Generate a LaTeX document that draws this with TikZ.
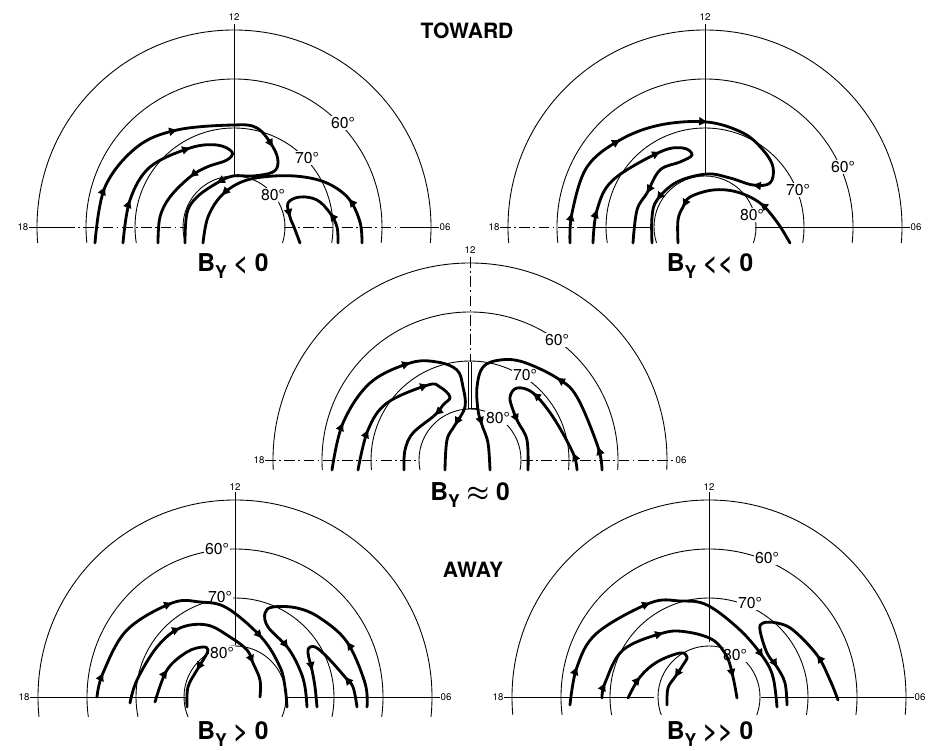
\documentclass[tikz,border=0pt]{standalone}
\usepackage{fontspec}
\setmainfont{TeX Gyre Heros}
\usetikzlibrary{arrows.meta}
\newcommand{\Bysub}{B\raisebox{-3.5pt}{\fontsize{10}{10}\selectfont Y}}
\tikzset{
  ring/.style     = {line width=0.5pt},
  axisline/.style = {line width=0.5pt},
  axisdash/.style = {line width=0.5pt, dash pattern=on 6pt off 2pt on 1pt off 2pt},
  flow/.style     = {line width=1.6pt, line cap=round, line join=round},
  headarr/.style  = {line width=1.6pt, -{Triangle[length=4.5pt, width=4.5pt]}},
  deg/.style      = {font=\fontsize{9}{9}\selectfont, fill=white, inner sep=0.5pt},
  hour/.style     = {font=\fontsize{5.5}{5.5}\selectfont, inner sep=1pt},
  caselbl/.style  = {font=\fontsize{14}{14}\selectfont\bfseries, anchor=base, inner sep=0pt},
  headline/.style = {font=\fontsize{12}{12}\selectfont\bfseries, inner sep=0pt},
}

\begin{document}
\begin{tikzpicture}[x=0.02cm, y=0.02cm]
  \useasboundingbox (0,0) rectangle (941,751);

  % ---------- rings and hour marks of the five dials -----------------
  \foreach \pn/\cx/\cy/\cut in {tl/234/524/16, tr/705/524/16, mid/470/291/10,
                                bl/235/54/20, br/709/54/18} {
    \begin{scope}[shift={(\cx,\cy)}]
      \begin{scope}
        \clip (-215,-\cut) rectangle (215,215);
        \foreach \r in {197,148,99,51}
          \draw[ring] (0,0) circle (\r);
      \end{scope}
      \node[hour] (\pn-12) at (0,210) {12};
      \node[hour] (\pn-18) at (-211,0) {18};
      \node[hour] (\pn-06) at (211,0) {06};
    \end{scope}
  }

  % ---------- headings ------------------------------------------------
  \node[headline] (toward) at (467,720) {TOWARD};
  \node[headline] (away) at (473,181) {AWAY};
  \node[caselbl] (tl-case) at (233,479) {\Bysub{} < 0};
  \node[caselbl] (tr-case) at (710,479) {\Bysub{} <\kern0.5pt< 0};
  \node[caselbl] (mid-case) at (470,250) {\Bysub{} {\boldmath$\approx$} 0};
  \node[caselbl] (bl-case) at (233,11) {\Bysub{} > 0};
  \node[caselbl] (br-case) at (710,11) {\Bysub{} >\kern0.5pt> 0};

  % ---------- B_Y < 0 -------------------------------------------------
  \begin{scope}[shift={(234,524)}]
    \draw[axisline] (-205,0) -- (-170,0);
    \draw[axisdash] (-170,0) -- (-50,0);
    \draw[axisdash] (50,0) -- (170,0);
    \draw[axisline] (170,0) -- (205,0);
    \draw[axisline] (0,203) -- (0,51);
    \node[deg] (tl-60) at (109,104) {60°};
    \node[deg] (tl-70) at (73,69) {70°};
    \node[deg] (tl-80) at (39,32) {80°};
    \draw[flow] plot[smooth, tension=0.6] coordinates {(-139,-16) (-129,40) (-97,80)
      (-57,97) (-1,102) (23,99) (39,80) (44,65) (39,55) (19,51) (-1,51) (-17,44)
      (-37,30) (-47,14) (-49,-16)};
    \draw[flow] plot[smooth, tension=0.6] coordinates {(-111,-16) (-104,27) (-84,60)
      (-44,79) (-17,82) (-2,75) (-7,67) (-27,60) (-44,50) (-64,30) (-74,10) (-76,-16)};
    \draw[flow] plot[smooth, tension=0.6] coordinates {(128,-16) (126,5) (115,28)
      (95,43) (70,50) (40,51) (10,46) (-12,32) (-26,10) (-31,-16)};
    \draw[flow] plot[smooth, tension=0.6] coordinates {(104,-16) (103,0) (96,14)
      (83,27) (66,30) (54,24) (56,10) (60,0) (66,-16)};
    \foreach \x/\y/\a in {-129/40/66, -57/97/13, 39/80/-58, -17/44/210,
                          -104/27/70, -44/79/18, -44/50/219,
                          115/28/129, -12/32/225, 96/14/126, 56/10/-76}
      \draw[headarr] (\x,\y) ++(\a+180:8) -- ++(\a:8);
  \end{scope}

  % ---------- B_Y << 0 ------------------------------------------------
  \begin{scope}[shift={(705,524)}]
    \draw[axisdash] (-205,0) -- (-125,0);
    \draw[axisline] (-125,0) -- (-55,0);
    \draw[axisline] (50,0) -- (205,0);
    \draw[axisline] (0,203) -- (0,53);
    \node[deg] (tr-60) at (138,60) {60°};
    \node[deg] (tr-70) at (93,37) {70°};
    \node[deg] (tr-80) at (47,12) {80°};
    \draw[flow] plot[smooth, tension=0.6] coordinates {(-135,-16) (-133,14) (-118,60)
      (-85,87) (-45,102) (2,105) (38,94) (58,77) (68,60) (65,44) (48,42) (25,49)
      (2,53) (-28,45) (-48,27) (-53,10) (-53,-16)};
    \draw[flow] plot[smooth, tension=0.6] coordinates {(-112,-16) (-108,17) (-92,47)
      (-45,75) (-22,79) (-13,72) (-25,65) (-45,57) (-58,34) (-68,17) (-72,-16)};
    \draw[flow] plot[smooth, tension=0.6] coordinates {(85,-16) (72,5) (55,24)
      (32,35) (8,37) (-15,30) (-22,20) (-27,7) (-27,-16)};
    \foreach \x/\y/\a in {-133/14/77, -85/87/30, 2/105/-5, 48/42/173, -48/27/234,
                          -108/17/72, -45/75/25, -58/34/240,
                          55/24/143, -22/20/242}
      \draw[headarr] (\x,\y) ++(\a+180:8) -- ++(\a:8);
  \end{scope}

  % ---------- B_Y ~ 0 -------------------------------------------------
  \begin{scope}[shift={(470,291)}]
    \draw[axisdash] (-205,0) -- (-52,0);
    \draw[axisdash] (52,0) -- (205,0);
    \draw[axisdash] (0,203) -- (0,98);
    \draw[axisline] (-2,98) -- (-2,52) -- (8,52);
    \draw[axisline] (1,98) -- (1,52);
    \node[deg] (mid-60) at (87,120) {60°};
    \node[deg] (mid-70) at (55,85) {70°};
    \node[deg] (mid-80) at (28,42) {80°};
    \draw[flow] plot[smooth, tension=0.6] coordinates {(-138,-10) (-127,37) (-100,77)
      (-60,97) (-33,98) (-13,90) (-7,73) (-5,53) (-15,35) (-23,20) (-25,-10)};
    \draw[flow] plot[smooth, tension=0.6] coordinates {(-112,-10) (-102,30) (-83,57)
      (-42,75) (-30,73) (-20,63) (-27,55) (-35,45) (-57,27) (-65,10) (-66,-10)};
    \draw[flow] plot[smooth, tension=0.6] coordinates {(132,-10) (128,13) (107,63)
      (87,82) (53,98) (30,100) (13,93) (7,73) (8,50) (12,35) (18,17) (20,-10)};
    \draw[flow] plot[smooth, tension=0.6] coordinates {(107,-10) (103,7) (83,43)
      (63,67) (47,72) (40,63) (43,50) (48,38) (57,20) (58,-10)};
    \foreach \x/\y/\a in {-127/37/66, -60/97/17, -15/35/241,
                          -102/30/67, -42/75/17, -35/45/223,
                          128/13/109, 87/82/147, 12/35/-73,
                          103/7/114, 63/67/141, 48/38/-65}
      \draw[headarr] (\x,\y) ++(\a+180:8) -- ++(\a:8);
  \end{scope}

  % ---------- B_Y > 0 -------------------------------------------------
  \begin{scope}[shift={(235,54)}]
    \draw[axisline] (-205,0) -- (-48,0);
    \draw[axisline] (52,0) -- (205,0);
    \draw[axisline] (0,205) -- (0,52);
    \node[deg] (bl-60) at (-18,148) {60°};
    \node[deg] (bl-70) at (-15,100) {70°};
    \node[deg] (bl-80) at (-13,44) {80°};
    \draw[flow] plot[smooth, tension=0.6] coordinates {(-138,0) (-132,24) (-108,67)
      (-63,94) (-35,95) (-8,89) (27,59) (45,30) (50,10) (52,-10)};
    \draw[flow] plot[smooth, tension=0.6] coordinates {(-105,-6) (-98,17) (-78,50)
      (-55,69) (-28,72) (-5,60) (12,47) (18,34) (25,17) (25,0)};
    \draw[flow] plot[smooth, tension=0.6] coordinates {(-80,-5) (-68,27) (-48,45)
      (-32,50) (-27,47) (-30,40) (-38,27) (-47,10) (-48,-10)};
    \draw[flow] plot[smooth, tension=0.6] coordinates {(132,-10) (130,14) (112,55)
      (85,79) (62,89) (38,90) (30,84) (33,70) (53,49) (65,27) (70,10) (72,-10)};
    \draw[flow] plot[smooth, tension=0.6] coordinates {(122,-10) (118,10) (110,20)
      (95,37) (82,49) (75,50) (73,44) (77,27) (80,10) (82,-10)};
    \foreach \x/\y/\a in {-132/24/66, -63/94/21, 27/59/-48,
                          -55/69/24, 18/34/-67,
                          -68/27/57, -38/27/240,
                          112/55/125, 53/49/-53,
                          110/20/130, 77/27/-78}
      \draw[headarr] (\x,\y) ++(\a+180:8) -- ++(\a:8);
  \end{scope}

  % ---------- B_Y >> 0 ------------------------------------------------
  \begin{scope}[shift={(709,54)}]
    \draw[axisline] (-205,0) -- (-55,0);
    \draw[axisline] (52,0) -- (205,0);
    \draw[axisline] (0,205) -- (0,55);
    \node[deg] (br-60) at (58,139) {60°};
    \node[deg] (br-70) at (41,94) {70°};
    \node[deg] (br-80) at (26,42) {80°};
    \draw[flow] plot[smooth, tension=0.6] coordinates {(-139,-8) (-132,30) (-112,64)
      (-59,94) (-29,96) (-2,92) (31,67) (54,40) (64,20) (68,-10)};
    \draw[flow] plot[smooth, tension=0.6] coordinates {(-107,-1) (-104,14) (-86,47)
      (-46,64) (-22,65) (4,57) (18,40) (24,20) (28,-1)};
    \draw[flow] plot[smooth, tension=0.6] coordinates {(-81,-1) (-69,20) (-52,35)
      (-29,44) (-22,40) (-26,32) (-34,20) (-41,9) (-42,-8)};
    \draw[flow] plot[smooth, tension=0.6] coordinates {(129,-3) (121,17) (108,42)
      (84,67) (68,74) (54,74) (51,67) (58,44) (68,30) (76,14) (78,-8)};
    \foreach \x/\y/\a in {-132/30/69, -59/94/21, 54/40/-55,
                          -104/14/66, -46/64/16, 24/20/-76,
                          -69/20/51, -34/20/237,
                          108/42/127, 68/30/-59}
      \draw[headarr] (\x,\y) ++(\a+180:8) -- ++(\a:8);
  \end{scope}
\end{tikzpicture}
\end{document}
